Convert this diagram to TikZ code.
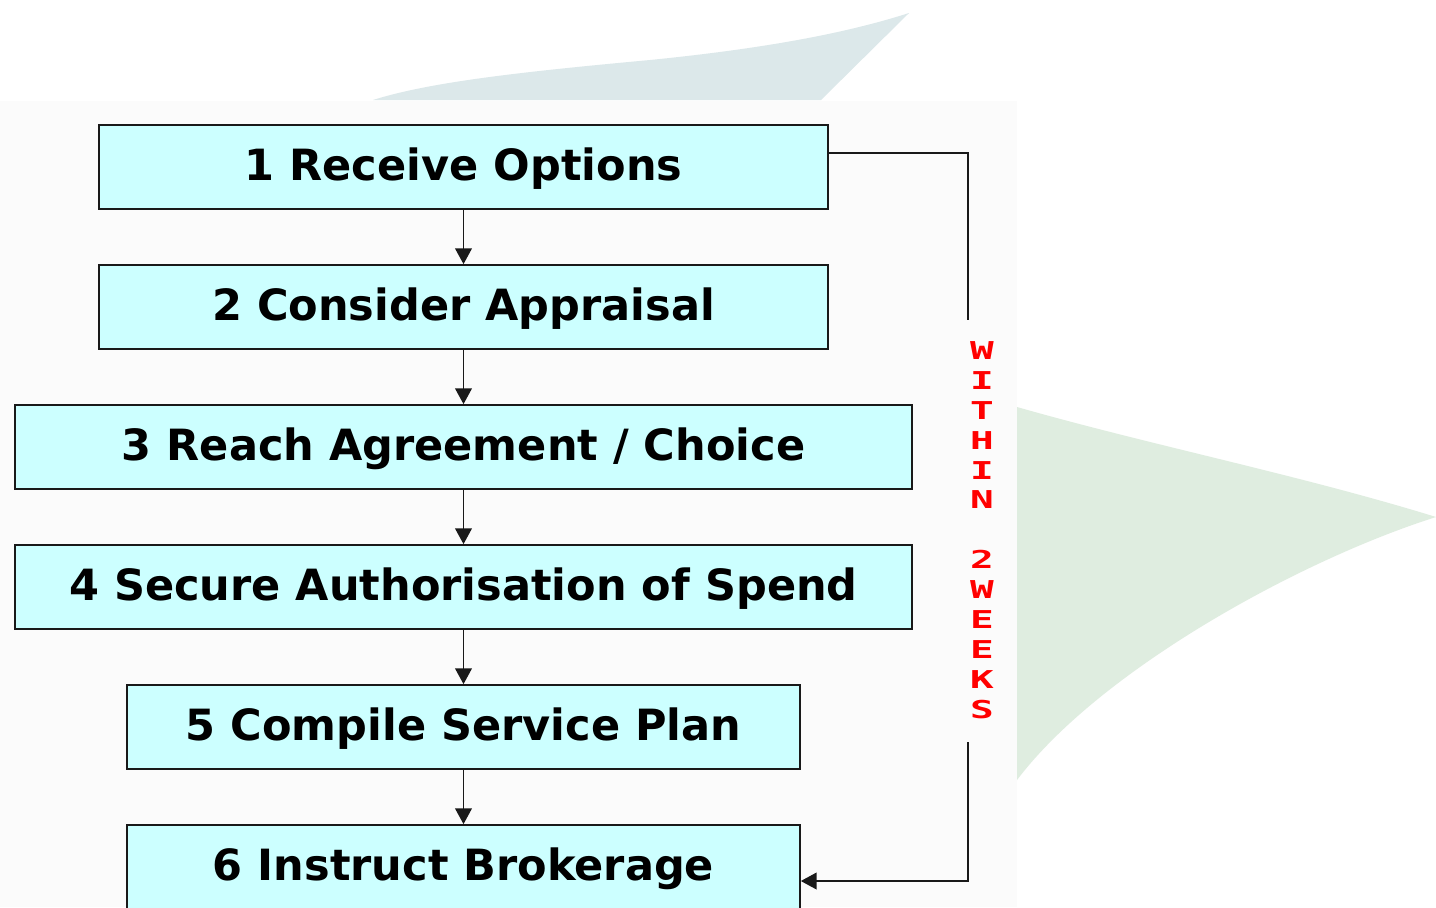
\documentclass[tikz,border=0pt]{standalone}
\usepackage{fontspec}
\setmainfont{DejaVu Sans}
\newfontfamily\weekfont[FakeStretch=1.6]{DejaVu Sans Mono}
\usetikzlibrary{arrows.meta}
\definecolor{boxfill}{HTML}{CCFFFF}
\definecolor{topshade}{HTML}{DCE8EA}
\definecolor{sideshade}{HTML}{DFEDE0}
\definecolor{panel}{HTML}{FBFBFB}
\begin{document}
\begin{tikzpicture}[x=0.02cm,y=-0.02cm,
  stage/.style={draw=black!90,line width=1pt,fill=boxfill,minimum height=1.68cm,
    inner sep=0pt,text depth=0.12cm,font=\fontsize{24.5}{30}\selectfont\bfseries},
  flow/.style={line width=1pt,draw=black!90,-{Triangle[length=9pt,width=9.5pt]}}]
\clip (0,0) rectangle (1436,907);
\fill[white] (0,0) rectangle (1436,907);
\fill[topshade] (373,100) .. controls (430,82) and (520,72) .. (650,60)
  .. controls (770,48) and (850,32) .. (909,13) -- (821,100) -- cycle;
\fill[panel] (0,101) rectangle (1017,907);
\fill[sideshade] (1017,407) .. controls (1150,445) and (1300,475) .. (1436,517)
  .. controls (1300,560) and (1100,670) .. (1017,780) -- cycle;
\node[stage,minimum width=14.58cm] (b1) at (463.5,167) {1 Receive Options};
\node[stage,minimum width=14.58cm] (b2) at (463.5,307) {2 Consider Appraisal};
\node[stage,minimum width=17.94cm] (b3) at (463.5,447) {3 Reach Agreement / Choice};
\node[stage,minimum width=17.94cm] (b4) at (463.5,587) {4 Secure Authorisation of Spend};
\node[stage,minimum width=13.46cm] (b5) at (463.5,727) {5 Compile Service Plan};
\node[stage,minimum width=13.46cm] (b6) at (463.5,867) {6 Instruct Brokerage};
\foreach \a/\b in {b1/b2,b2/b3,b3/b4,b4/b5,b5/b6}
  \draw[flow] (\a.south) -- (\b.north);
\node[text=red,align=center,inner sep=0pt,font=\weekfont\bfseries\fontsize{14}{17}\selectfont] (wk) at (982,530)
  {W\\I\\T\\H\\I\\N\\\mbox{}\\2\\W\\E\\E\\K\\S};
\coordinate (gapt) at (968,320);
\coordinate (gapb) at (968,742);
\draw[line width=1pt,draw=black!90] ([yshift=0.28cm]b1.east) -| (gapt);
\draw[flow] (gapb) |- ([yshift=-0.28cm]b6.east);
\end{tikzpicture}
\end{document}
